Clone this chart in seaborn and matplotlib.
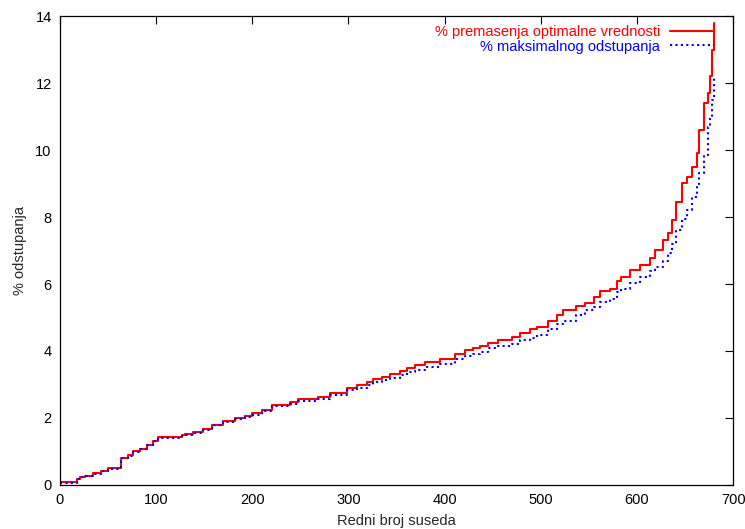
import pandas as pd
import seaborn as sns
import matplotlib
matplotlib.use("Agg")
import matplotlib.pyplot as plt

# values (step knots, steps-post)
neighbor_idx = [0, 18, 21, 26, 34, 43, 50, 63, 71, 76, 83, 90, 97, 102, 127, 130,
                138, 149, 158, 170, 182, 192, 200, 210, 220, 239, 248, 268, 281, 298,
                309, 319, 326, 335, 343, 354, 361, 369, 380, 395, 411, 421, 430, 437,
                445, 456, 470, 478, 489, 496, 508, 517, 523, 537, 546, 555, 562, 572,
                579, 583, 593, 603, 614, 619, 627, 632, 636, 641, 647, 652, 657, 662,
                665, 670, 674, 676, 678, 680]

pct_over_optimal = [0.08, 0.18, 0.25, 0.27, 0.35, 0.43, 0.5, 0.82, 0.9, 1.0, 1.08, 1.2,
                    1.32, 1.42, 1.5, 1.52, 1.58, 1.67, 1.8, 1.9, 2.0, 2.06, 2.15, 2.24,
                    2.4, 2.48, 2.57, 2.64, 2.75, 2.9, 2.99, 3.08, 3.17, 3.23, 3.32, 3.41,
                    3.5, 3.59, 3.68, 3.76, 3.92, 4.04, 4.1, 4.16, 4.25, 4.34, 4.43, 4.55,
                    4.67, 4.73, 4.91, 5.06, 5.23, 5.33, 5.44, 5.62, 5.8, 5.85, 6.1, 6.22,
                    6.43, 6.58, 6.79, 7.03, 7.3, 7.53, 7.9, 8.44, 9.03, 9.2, 9.5, 9.9,
                    10.6, 11.4, 11.7, 12.2, 13.0, 13.8]

pct_max_dev = [0.07, 0.17, 0.24, 0.26, 0.34, 0.42, 0.49, 0.8, 0.88, 0.98, 1.06, 1.18,
               1.3, 1.4, 1.48, 1.5, 1.56, 1.65, 1.78, 1.87, 1.97, 2.03, 2.1, 2.2, 2.35,
               2.43, 2.5, 2.56, 2.68, 2.83, 2.9, 2.98, 3.06, 3.12, 3.2, 3.29, 3.36, 3.44,
               3.52, 3.6, 3.75, 3.86, 3.92, 3.98, 4.08, 4.15, 4.22, 4.32, 4.4, 4.48,
               4.66, 4.8, 4.9, 5.08, 5.22, 5.32, 5.45, 5.55, 5.75, 5.84, 6.04, 6.2, 6.38,
               6.5, 6.7, 6.92, 7.2, 7.6, 7.95, 8.22, 8.6, 9.0, 9.3, 9.85, 10.7, 11.0,
               11.5, 12.15]

label_red = "% premasenja optimalne vrednosti"
label_blue = "% maksimalnog odstupanja"

df = pd.DataFrame({"x": neighbor_idx, "red": pct_over_optimal, "blue": pct_max_dev})

sns.set_style("white")
plt.rcParams["font.family"] = ["Liberation Sans", "DejaVu Sans"]
plt.rcParams["font.size"] = 10.5

fig = plt.figure(figsize=(7.45, 5.29), dpi=100)
ax = fig.add_axes([0.0805, 0.0832, 0.9035, 0.8865])

sns.lineplot(data=df, x="x", y="red", ax=ax, color="#ff0000", linewidth=1.5,
             drawstyle="steps-post", label=label_red)
sns.lineplot(data=df, x="x", y="blue", ax=ax, color="#0000ff", linewidth=1.5,
             drawstyle="steps-post", label=label_blue)
ax.lines[1].set_linestyle((0, (1, 1.6)))

ax.set_xlim(0, 700)
ax.set_ylim(0, 14)
ax.set_xticks(range(0, 701, 100))
ax.set_yticks(range(0, 15, 2))
ax.tick_params(direction="in", top=True, right=True, length=6, width=0.8,
               labelsize=10.5, colors="black", pad=6)
for s in ax.spines.values():
    s.set_color("black")
    s.set_linewidth(0.9)

ax.set_xlabel("Redni broj suseda", fontsize=10.5, labelpad=5)
ax.set_ylabel("% odstupanja", fontsize=10.5, labelpad=6)

leg = ax.legend(loc="upper right", bbox_to_anchor=(0.985, 1.0), frameon=False,
                markerfirst=False, labelcolor="linecolor", handlelength=3.0,
                handletextpad=0.7, labelspacing=0.05, fontsize=10.5,
                borderaxespad=0.2)
for t in leg.get_texts():
    t.set_ha("right")

fig.savefig("out.png", dpi=100)
